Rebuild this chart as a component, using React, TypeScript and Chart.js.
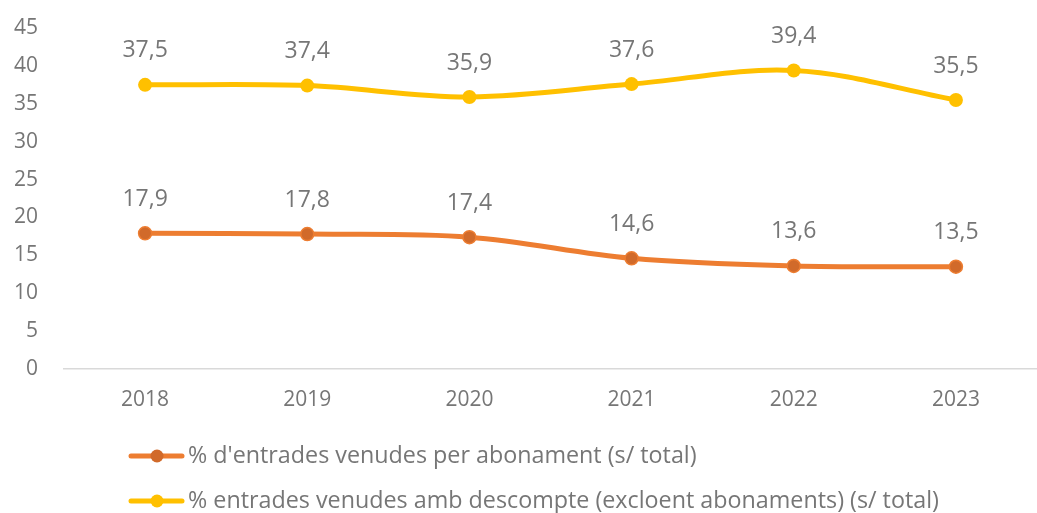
import React, { useEffect, useRef } from "react";
import { Chart, registerables } from "chart.js";

Chart.register(...registerables);

const years = ["2018", "2019", "2020", "2021", "2022", "2023"];
const abonament = [17.9, 17.8, 17.4, 14.6, 13.6, 13.5];
const descompte = [37.5, 37.4, 35.9, 37.6, 39.4, 35.5];
const seriesNames = [
  "% d'entrades venudes per abonament (s/ total)",
  "% entrades venudes amb descompte (excloent abonaments) (s/ total)",
];
const yTicks = [0, 5, 10, 15, 20, 25, 30, 35, 40, 45];

const TEXT = "#767676";
const FONT = "'Open Sans', sans-serif";
const ORANGE = "#ED7D31";
const ORANGE_DARK = "#D16A2A";
const YELLOW = "#FFC000";

const fmt = (v: number) => v.toFixed(1).replace(".", ",");

const dataLabels = {
  id: "dataLabels",
  afterDatasetsDraw(chart: any) {
    const ctx = chart.ctx;
    ctx.save();
    ctx.font = `23px ${FONT}`;
    ctx.fillStyle = TEXT;
    ctx.textAlign = "center";
    ctx.textBaseline = "middle";
    chart.data.datasets.forEach((ds: any, i: number) => {
      const meta = chart.getDatasetMeta(i);
      meta.data.forEach((pt: any, j: number) => {
        ctx.fillText(fmt(ds.data[j]), pt.x, pt.y - 34);
      });
    });
    ctx.restore();
  },
};

const customLegend = {
  id: "customLegend",
  afterDraw(chart: any) {
    const ctx = chart.ctx;
    const base = chart.chartArea.bottom;
    const rows = [base + 87, base + 132];
    ctx.save();
    chart.data.datasets.forEach((ds: any, i: number) => {
      const y = rows[i];
      ctx.strokeStyle = ds.borderColor;
      ctx.lineWidth = 5;
      ctx.lineCap = "round";
      ctx.beginPath();
      ctx.moveTo(131, y);
      ctx.lineTo(182, y);
      ctx.stroke();
      ctx.beginPath();
      ctx.arc(157, y, 6.5, 0, Math.PI * 2);
      ctx.fillStyle = ds.pointBackgroundColor;
      ctx.fill();
      ctx.font = `23.3px ${FONT}`;
      ctx.fillStyle = TEXT;
      ctx.textAlign = "left";
      ctx.textBaseline = "middle";
      ctx.fillText(ds.label, 188, y);
    });
    ctx.restore();
  },
};

export default function App() {
  const ref = useRef<HTMLCanvasElement | null>(null);
  useEffect(() => {
    document.body.style.margin = "0";
    if (!ref.current) return;
    const chart = new Chart(ref.current, {
      type: "line",
      data: {
        labels: years,
        datasets: [
          {
            label: seriesNames[0],
            data: abonament,
            borderColor: ORANGE,
            backgroundColor: ORANGE,
            pointBackgroundColor: ORANGE_DARK,
            pointBorderColor: ORANGE,
            pointBorderWidth: 1.5,
            pointRadius: 6.5,
            borderWidth: 5,
            tension: 0.35,
            clip: false,
          },
          {
            label: seriesNames[1],
            data: descompte,
            borderColor: YELLOW,
            backgroundColor: YELLOW,
            pointBackgroundColor: YELLOW,
            pointBorderColor: YELLOW,
            pointBorderWidth: 0,
            pointRadius: 7,
            borderWidth: 5,
            tension: 0.35,
            clip: false,
          },
        ],
      },
      options: {
        responsive: false,
        animation: false,
        layout: { autoPadding: false, padding: { top: 28, right: -4, left: 0, bottom: 94 } },
        plugins: {
          legend: { display: false },
          tooltip: { enabled: false },
        },
        scales: {
          x: {
            offset: true,
            grid: { display: false, drawTicks: false },
            border: { display: true, color: "#D9D9D9", width: 1.5 },
            ticks: {
              color: TEXT,
              font: { family: FONT, size: 21 },
              padding: 18,
              maxRotation: 0,
            },
            afterFit: (s: any) => {
              s.height = 50;
              s.paddingLeft = 0;
              s.paddingRight = 0;
            },
          },
          y: {
            min: 0,
            max: 45,
            grid: { display: false, drawTicks: false },
            border: { display: false },
            afterBuildTicks: (s: any) => {
              s.ticks = yTicks.map((v) => ({ value: v }));
            },
            ticks: {
              color: TEXT,
              font: { family: FONT, size: 21 },
              padding: 26,
            },
            afterFit: (s: any) => {
              s.width = 64;
              s.paddingTop = 0;
              s.paddingBottom = 0;
            },
          },
        },
      },
      plugins: [dataLabels, customLegend],
    });
    return () => chart.destroy();
  }, []);
  return (
    <div style={{ width: 1037, height: 513 }}>
      <canvas ref={ref} width={1037} height={513} />
    </div>
  );
}
